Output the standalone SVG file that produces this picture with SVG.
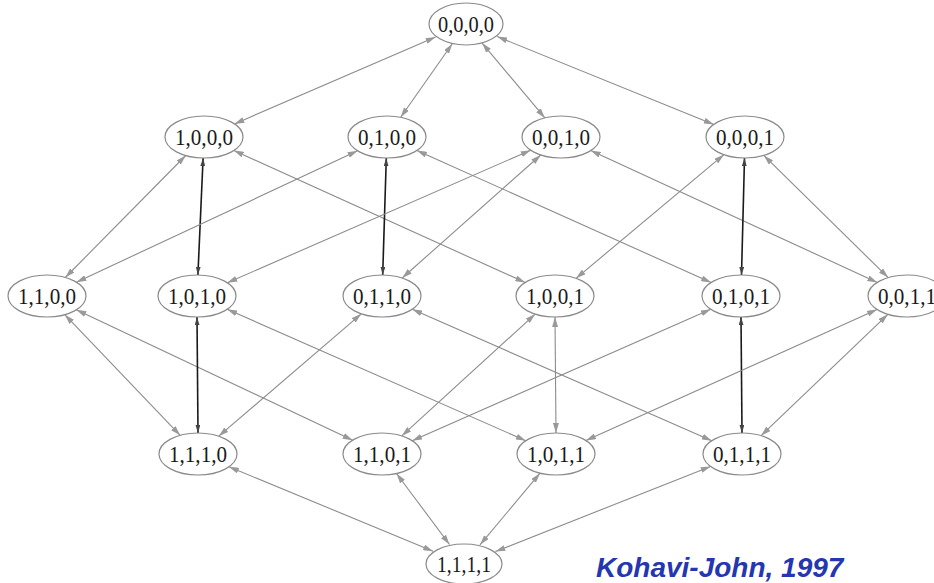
<svg xmlns="http://www.w3.org/2000/svg" width="934" height="583" viewBox="0 0 934 583">
<style>
.node ellipse{fill:#fff;stroke:#8a8a8a;stroke-width:1.2}
.node text{font-family:"Liberation Serif","Times New Roman",serif;font-size:24px;fill:#1a1a1a;text-anchor:middle}
.e{stroke:#8c8c8c;stroke-width:1.1;fill:none;marker-start:url(#ah);marker-end:url(#ah)}
.k{stroke:#1a1a1a;stroke-width:1.6;fill:none;marker-start:url(#ahk);marker-end:url(#ahk)}
.title{font-family:"Liberation Sans",Arial,sans-serif;font-weight:bold;font-style:italic;font-size:28px;fill:#2436b0}
</style>
<defs>
<marker id="ah" viewBox="0 0 10 6" refX="10" refY="3" markerWidth="10" markerHeight="6" markerUnits="userSpaceOnUse" orient="auto-start-reverse">
<path d="M0,0 L10,3 L0,6 z" fill="#999"/>
</marker>
<marker id="ahk" viewBox="0 0 10 6" refX="10" refY="3" markerWidth="8" markerHeight="5" markerUnits="userSpaceOnUse" orient="auto-start-reverse">
<path d="M0,0 L10,3 L0,6 z" fill="#444"/>
</marker>
</defs>
<rect width="934" height="583" fill="#fff"/>
<g id="connectors">
<line class="e" x1="435.6" y1="37.1" x2="234.4" y2="123.9"/>
<line class="e" x1="452.3" y1="43.7" x2="400.7" y2="117.3"/>
<line class="e" x1="482.1" y1="43.1" x2="544.9" y2="117.9"/>
<line class="e" x1="497.2" y1="36.6" x2="713.8" y2="124.4"/>
<line class="e" x1="185.7" y1="155.5" x2="65.3" y2="277.5"/>
<line class="k" x1="203.1" y1="158" x2="197.9" y2="275"/>
<line class="e" x1="233.8" y1="150.5" x2="525.2" y2="282.5"/>
<line class="e" x1="357.6" y1="150.8" x2="76.4" y2="282.2"/>
<line class="k" x1="386.3" y1="158" x2="382.7" y2="275"/>
<line class="e" x1="416.9" y1="150.5" x2="711.1" y2="282.5"/>
<line class="e" x1="530.7" y1="150.2" x2="227.3" y2="282.8"/>
<line class="e" x1="540.8" y1="155" x2="402.2" y2="278"/>
<line class="e" x1="590.7" y1="150.6" x2="877.3" y2="282.4"/>
<line class="e" x1="723.9" y1="154.7" x2="576.1" y2="278.3"/>
<line class="k" x1="744.5" y1="158" x2="741.5" y2="275"/>
<line class="e" x1="763.8" y1="155.4" x2="888.2" y2="277.6"/>
<line class="e" x1="64.8" y1="314.7" x2="180.2" y2="435.3"/>
<line class="e" x1="76.3" y1="309.8" x2="352.7" y2="440.2"/>
<line class="k" x1="197" y1="317" x2="198" y2="433"/>
<line class="e" x1="227.2" y1="309.3" x2="525.8" y2="440.7"/>
<line class="e" x1="361.3" y1="313.8" x2="218.7" y2="436.2"/>
<line class="e" x1="412.2" y1="309.3" x2="711.8" y2="440.7"/>
<line class="e" x1="535.2" y1="314.1" x2="401.8" y2="435.9"/>
<line class="e" x1="555" y1="317" x2="556" y2="433"/>
<line class="e" x1="710.8" y1="309.3" x2="412.2" y2="440.7"/>
<line class="k" x1="741" y1="317" x2="742" y2="433"/>
<line class="e" x1="877.1" y1="309.5" x2="585.9" y2="440.5"/>
<line class="e" x1="887.9" y1="314.3" x2="761.1" y2="435.7"/>
<line class="e" x1="228.9" y1="466.8" x2="433.1" y2="551.2"/>
<line class="e" x1="396.5" y1="473.5" x2="449.5" y2="544.5"/>
<line class="e" x1="540" y1="473.2" x2="480" y2="544.8"/>
<line class="e" x1="710.6" y1="466.4" x2="495.4" y2="551.6"/>
</g>
<g id="n0000" class="node"><ellipse cx="466" cy="24" rx="37" ry="21"/><text x="466" y="32" textLength="56" lengthAdjust="spacingAndGlyphs">0,0,0,0</text></g>
<g id="n1000" class="node"><ellipse cx="204" cy="137" rx="39" ry="21"/><text x="204" y="145" textLength="58" lengthAdjust="spacingAndGlyphs">1,0,0,0</text></g>
<g id="n0100" class="node"><ellipse cx="387" cy="137" rx="39" ry="21"/><text x="387" y="145" textLength="58" lengthAdjust="spacingAndGlyphs">0,1,0,0</text></g>
<g id="n0010" class="node"><ellipse cx="561" cy="137" rx="39" ry="21"/><text x="561" y="145" textLength="58" lengthAdjust="spacingAndGlyphs">0,0,1,0</text></g>
<g id="n0001" class="node"><ellipse cx="745" cy="137" rx="39" ry="21"/><text x="745" y="145" textLength="58" lengthAdjust="spacingAndGlyphs">0,0,0,1</text></g>
<g id="n1100" class="node"><ellipse cx="47" cy="296" rx="39" ry="21"/><text x="47" y="304" textLength="58" lengthAdjust="spacingAndGlyphs">1,1,0,0</text></g>
<g id="n1010" class="node"><ellipse cx="197" cy="296" rx="39" ry="21"/><text x="197" y="304" textLength="58" lengthAdjust="spacingAndGlyphs">1,0,1,0</text></g>
<g id="n0110" class="node"><ellipse cx="382" cy="296" rx="39" ry="21"/><text x="382" y="304" textLength="58" lengthAdjust="spacingAndGlyphs">0,1,1,0</text></g>
<g id="n1001" class="node"><ellipse cx="555" cy="296" rx="39" ry="21"/><text x="555" y="304" textLength="58" lengthAdjust="spacingAndGlyphs">1,0,0,1</text></g>
<g id="n0101" class="node"><ellipse cx="741" cy="296" rx="39" ry="21"/><text x="741" y="304" textLength="58" lengthAdjust="spacingAndGlyphs">0,1,0,1</text></g>
<g id="n0011" class="node"><ellipse cx="907" cy="296" rx="39" ry="21"/><text x="907" y="304" textLength="58" lengthAdjust="spacingAndGlyphs">0,0,1,1</text></g>
<g id="n1110" class="node"><ellipse cx="198" cy="454" rx="39" ry="21"/><text x="198" y="462" textLength="58" lengthAdjust="spacingAndGlyphs">1,1,1,0</text></g>
<g id="n1101" class="node"><ellipse cx="382" cy="454" rx="39" ry="21"/><text x="382" y="462" textLength="58" lengthAdjust="spacingAndGlyphs">1,1,0,1</text></g>
<g id="n1011" class="node"><ellipse cx="556" cy="454" rx="39" ry="21"/><text x="556" y="462" textLength="58" lengthAdjust="spacingAndGlyphs">1,0,1,1</text></g>
<g id="n0111" class="node"><ellipse cx="742" cy="454" rx="39" ry="21"/><text x="742" y="462" textLength="58" lengthAdjust="spacingAndGlyphs">0,1,1,1</text></g>
<g id="n1111" class="node"><ellipse cx="464" cy="564" rx="38" ry="20"/><text x="464" y="572" textLength="54" lengthAdjust="spacingAndGlyphs">1,1,1,1</text></g>
<text class="title" x="596" y="577">Kohavi-John, 1997</text>
</svg>
